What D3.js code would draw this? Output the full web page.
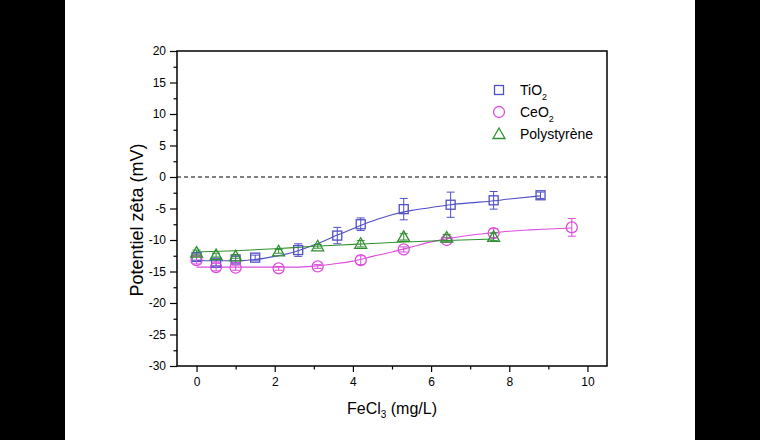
<!DOCTYPE html>
<html>
<head>
<meta charset="utf-8">
<script src="https://cdn.jsdelivr.net/npm/d3@7"></script>
<style>
  body { margin: 0; background: #000; }
  text { font-family: "Liberation Sans", Arial, sans-serif; }
</style>
</head>
<body>
<svg id="chart" width="760" height="440"></svg>
<script>
var tioX = [0, 0.5, 1, 1.5, 2.6, 3.6, 4.2, 5.3, 6.5, 7.6, 8.8];
var tioY = [-12.7, -13.6, -13.1, -12.8, -11.6, -9.3, -7.5, -5.1, -4.4, -3.7, -2.9];
var tioErr = [0.5, 0.5, 0.5, 0.4, 1.0, 1.3, 1.0, 1.7, 2.0, 1.4, 0.5];

var ceoX = [0, 0.5, 1, 2.1, 3.1, 4.2, 5.3, 6.4, 7.6, 9.6];
var ceoY = [-13.2, -14.3, -14.4, -14.5, -14.2, -13.2, -11.5, -10.0, -8.9, -8.0];
var ceoErr = [0.6, 0.6, 0.4, 0.3, 0.3, 0.7, 0.4, 0.4, 0.7, 1.4];

var psX = [0, 0.5, 1, 2.1, 3.1, 4.2, 5.3, 6.4, 7.6];
var psY = [-12.0, -12.4, -12.6, -11.8, -11.0, -10.6, -9.5, -9.6, -9.5];
var psErr = [0.4, 0.3, 0.3, 0.3, 0.3, 0.5, 0.5, 0.5, 0.6];

// courbes d'ajustement
var tioFitX = [0, 1, 1.5, 2, 2.5, 3, 3.5, 4, 4.5, 5, 5.5, 6, 6.5, 7, 7.5, 8, 8.8];
var tioFitY = [-13.3, -13.3, -13.1, -12.6, -11.9, -10.8, -9.5, -8.2, -7.0, -6.0, -5.3, -4.85, -4.4, -4.1, -3.85, -3.5, -3.0];
var ceoFitX = [0, 1, 2, 2.5, 3, 3.5, 4, 4.5, 5, 5.5, 6, 6.5, 7, 7.5, 8, 8.5, 9, 9.6];
var ceoFitY = [-14.3, -14.3, -14.3, -14.3, -14.15, -13.8, -13.35, -12.6, -11.9, -11.1, -10.3, -9.7, -9.25, -8.9, -8.6, -8.4, -8.25, -8.1];
var psFitX = [0, 1, 2, 3, 4, 5, 6, 7, 7.6];
var psFitY = [-11.9, -11.7, -11.4, -11.0, -10.7, -10.4, -10.15, -9.95, -9.85];

var xTicks = [0, 2, 4, 6, 8, 10];
var yTicks = [20, 15, 10, 5, 0, -5, -10, -15, -20, -25, -30];

var svg = d3.select("#chart");
svg.append("rect").attr("x", 65).attr("y", 0).attr("width", 630).attr("height", 440).attr("fill", "#fff");

var pLeft = 177, pRight = 607, pTop = 51, pBottom = 366;
var x = d3.scaleLinear().domain([-0.5, 10.5]).range([pLeft, pRight]);
var y = d3.scaleLinear().domain([-30, 20]).range([pBottom, pTop]);
var fmt = function(d) { return String(d); };

// axes
svg.append("g").attr("transform", "translate(0," + pBottom + ")")
    .call(d3.axisBottom(x).tickValues(xTicks).tickSize(6).tickPadding(5).tickFormat(fmt));
svg.append("g").attr("transform", "translate(0," + pBottom + ")")
    .call(d3.axisBottom(x).tickValues([1, 3, 5, 7, 9]).tickSize(3.5).tickFormat(""));
svg.append("g").attr("transform", "translate(" + pLeft + ",0)")
    .call(d3.axisLeft(y).tickValues(yTicks).tickSize(7).tickPadding(4).tickFormat(fmt));
svg.append("g").attr("transform", "translate(" + pLeft + ",0)")
    .call(d3.axisLeft(y).tickValues(d3.range(-27.5, 20, 5)).tickSize(3.5).tickFormat(""));
svg.selectAll(".domain").remove();
svg.selectAll(".tick line").attr("stroke", "#000").attr("stroke-width", 1.2);
svg.selectAll(".tick text").attr("fill", "#000")
    .style("font-size", "12px").style("font-family", "Liberation Sans, Arial, sans-serif");

// cadre
svg.append("rect").attr("x", pLeft).attr("y", pTop).attr("width", pRight - pLeft).attr("height", pBottom - pTop)
    .attr("fill", "none").attr("stroke", "#000").attr("stroke-width", 1.5);

// ligne zero
svg.append("line").attr("x1", pLeft).attr("x2", pRight).attr("y1", y(0)).attr("y2", y(0))
    .attr("stroke", "#000").attr("stroke-width", 1).attr("stroke-dasharray", "4,3");

// titres
svg.append("text").attr("transform", "translate(143,220) rotate(-90)")
    .attr("text-anchor", "middle").attr("font-size", 18).text("Potentiel zêta (mV)");
var xt = svg.append("text").attr("x", (pLeft + pRight) / 2).attr("y", 414)
    .attr("text-anchor", "middle").attr("font-size", 16);
xt.append("tspan").text("FeCl");
xt.append("tspan").attr("font-size", 10).attr("dy", 4).text("3");
xt.append("tspan").attr("dy", -4).text(" (mg/L)");

var series = [
  { name: "TiO", sub: "2", color: "#4f4fc6", xs: tioX, ys: tioY, err: tioErr, fx: tioFitX, fy: tioFitY, shape: "square" },
  { name: "CeO", sub: "2", color: "#dd4ddd", xs: ceoX, ys: ceoY, err: ceoErr, fx: ceoFitX, fy: ceoFitY, shape: "circle" },
  { name: "Polystyrène", sub: "", color: "#2f902f", xs: psX, ys: psY, err: psErr, fx: psFitX, fy: psFitY, shape: "triangle" }
];

var line = d3.line().x(function(d) { return x(d[0]); }).y(function(d) { return y(d[1]); }).curve(d3.curveMonotoneX);

function drawSymbol(g, shape, cx, cy, color) {
  if (shape === "square") {
    g.append("rect").attr("x", cx - 4.5).attr("y", cy - 4.5).attr("width", 9).attr("height", 9)
      .attr("fill", "none").attr("stroke", color).attr("stroke-width", 1.3);
  } else if (shape === "circle") {
    g.append("circle").attr("cx", cx).attr("cy", cy).attr("r", 5.5)
      .attr("fill", "none").attr("stroke", color).attr("stroke-width", 1.3);
  } else {
    g.append("path").attr("d", "M" + cx + "," + (cy - 6) + "L" + (cx + 6) + "," + (cy + 4.5) + "L" + (cx - 6) + "," + (cy + 4.5) + "Z")
      .attr("fill", "none").attr("stroke", color).attr("stroke-width", 1.3);
  }
}

series.forEach(function(s) {
  svg.append("path").datum(d3.zip(s.fx, s.fy)).attr("d", line)
    .attr("fill", "none").attr("stroke", s.color).attr("stroke-width", 1.1);
});

series.forEach(function(s) {
  var g = svg.append("g");
  s.xs.forEach(function(xv, i) {
    var cx = x(xv), cy = y(s.ys[i]);
    var y1 = y(s.ys[i] + s.err[i]), y2 = y(s.ys[i] - s.err[i]);
    g.append("line").attr("x1", cx).attr("x2", cx).attr("y1", y1).attr("y2", y2).attr("stroke", s.color).attr("stroke-width", 1);
    g.append("line").attr("x1", cx - 4).attr("x2", cx + 4).attr("y1", y1).attr("y2", y1).attr("stroke", s.color).attr("stroke-width", 1);
    g.append("line").attr("x1", cx - 4).attr("x2", cx + 4).attr("y1", y2).attr("y2", y2).attr("stroke", s.color).attr("stroke-width", 1);
    drawSymbol(g, s.shape, cx, cy, s.color);
  });
});

// legende
series.forEach(function(s, i) {
  var ly = 90 + i * 22;
  var g = svg.append("g");
  drawSymbol(g, s.shape, 499, ly, s.color);
  var t = g.append("text").attr("x", 520).attr("y", ly + 5).attr("font-size", 14).attr("fill", "#000");
  t.append("tspan").text(s.name);
  if (s.sub) t.append("tspan").attr("font-size", 9).attr("dy", 5).text(s.sub);
});
</script>
</body>
</html>
